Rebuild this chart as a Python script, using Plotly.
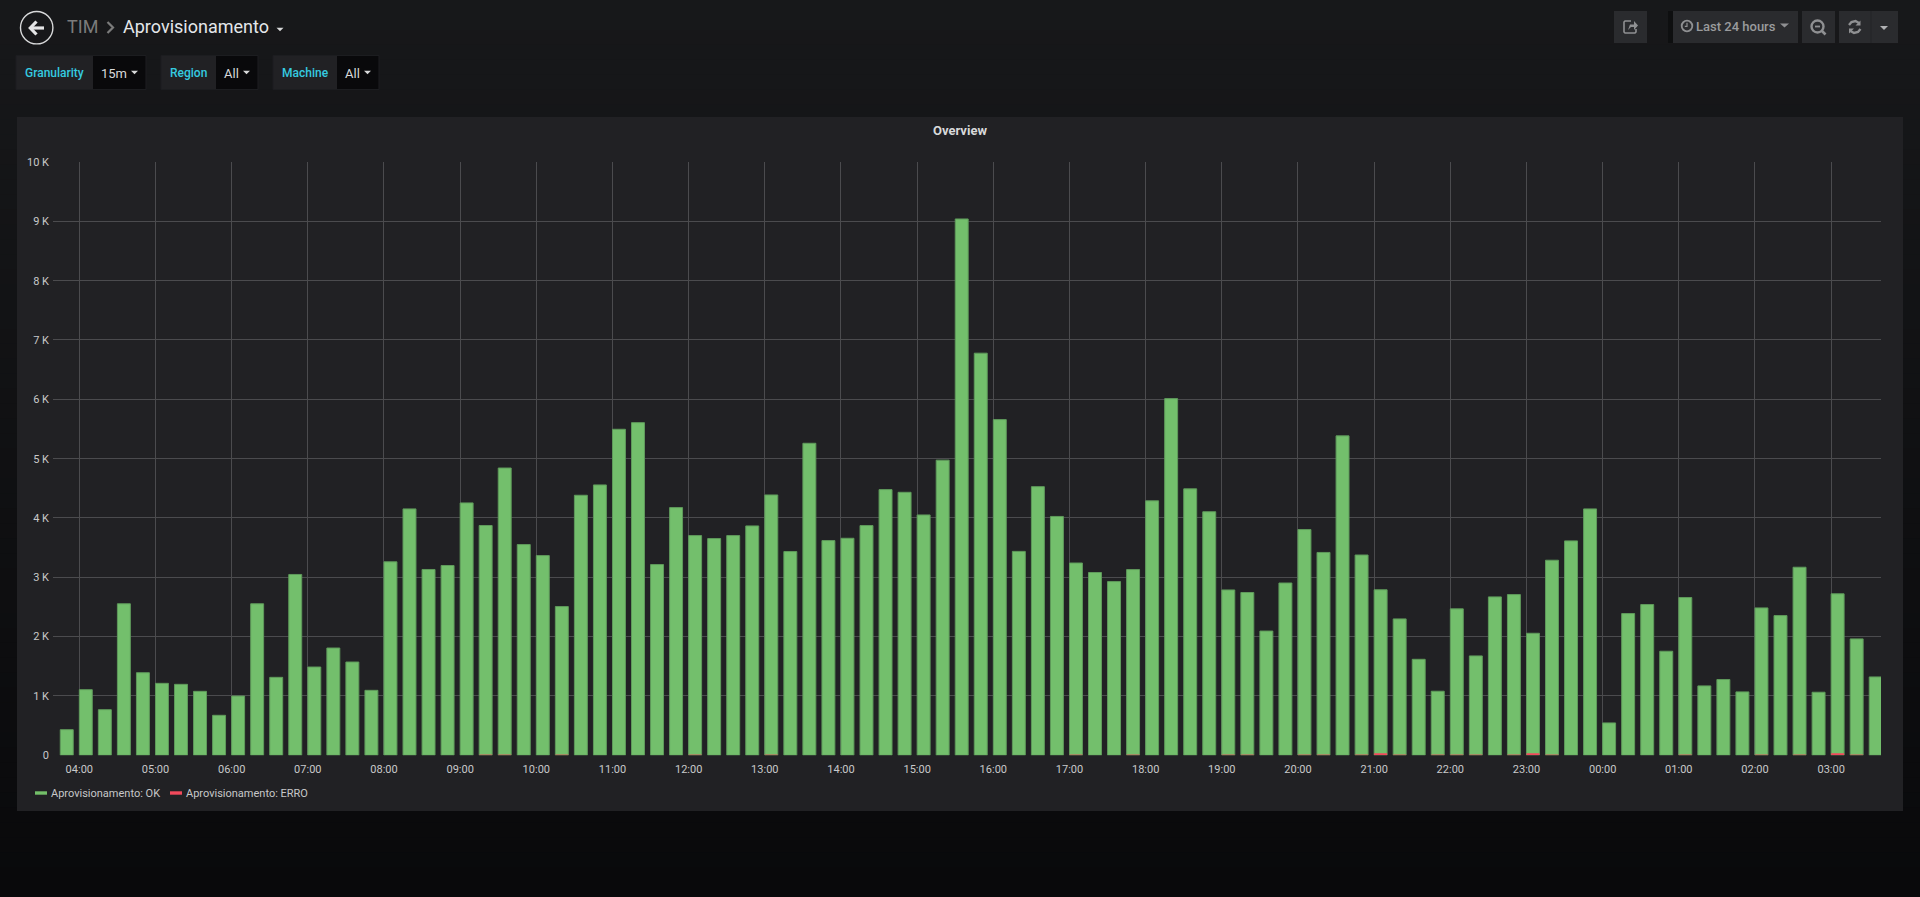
import pandas as pd
import plotly.graph_objects as go

W, H = 1920, 897

# ---- data ----
START = "2018-01-01 03:45"
ok_values = [
    432, 1106, 769, 2554, 1392, 1213, 1196, 1078, 674, 999, 2554, 1314, 3048, 1488, 1808, 1572,
    1095, 3261, 4153, 3132, 3199, 4254, 3873, 4842, 3552, 3366, 2507, 4383, 4557, 5495, 5607, 3215,
    4175, 3703, 3653, 3703, 3866, 4388, 3434, 5259, 3619, 3658, 3872, 4478, 4433, 4051, 4975, 9040,
    6778, 5658, 3437, 4528, 4026, 3241, 3081, 2928, 3130, 4289, 6012, 4491, 4105, 2787, 2744, 2094,
    2904, 3805, 3419, 5384, 3376, 2790, 2299, 1618, 1080, 2468, 1675, 2670, 2709, 2057, 3288, 3614,
    4153, 546, 2389, 2541, 1754, 2659, 1170, 1277, 1069, 2484, 2355, 3170, 1063, 2722, 1962, 1321,
]
err_times = ["2018-01-01 09:15", "2018-01-01 09:30", "2018-01-01 10:15", "2018-01-01 12:00",
             "2018-01-01 13:00", "2018-01-01 17:00", "2018-01-01 17:45", "2018-01-01 19:00",
             "2018-01-01 19:15", "2018-01-01 20:00", "2018-01-01 20:15", "2018-01-01 20:45",
             "2018-01-01 21:00", "2018-01-01 21:15", "2018-01-01 21:45", "2018-01-01 22:00",
             "2018-01-01 22:15", "2018-01-01 22:45", "2018-01-01 23:00", "2018-01-01 23:15",
             "2018-01-02 01:00", "2018-01-02 02:00", "2018-01-02 02:30", "2018-01-02 03:00",
             "2018-01-02 03:15"]
err_values = [17, 17, 17, 17, 17, 17, 17, 17, 17, 17, 17, 17, 34, 17, 17, 17, 17, 17, 34, 17,
              17, 17, 17, 34, 17]
ok_name = "Aprovisionamento: OK"
err_name = "Aprovisionamento: ERRO"
y_tick_values = [0, 1000, 2000, 3000, 4000, 5000, 6000, 7000, 8000, 9000, 10000]
y_tick_labels = ["0", "1 K", "2 K", "3 K", "4 K", "5 K", "6 K", "7 K", "8 K", "9 K", "10 K"]

times = pd.date_range(START, periods=len(ok_values), freq="15min")
BAR_MS = 15 * 60 * 1000 * 0.68

GREEN, RED = "#73bf69", "#f2495c"
FONT = "Roboto"


def px(x):
    return x / W


def py(y):
    return 1 - y / H


shapes, notes = [], []


def rect(x0, y0, x1, y1, fill, line=None):
    shapes.append(dict(type="rect", xref="paper", yref="paper", x0=px(x0), x1=px(x1), y0=py(y0), y1=py(y1),
                       fillcolor=fill, line=dict(width=1 if line else 0, color=line or fill), layer="below"))


def path(points, closed=False, fill=None, color=None, width=1.5):
    d = "M" + " L".join(f"{px(a):.6f},{py(b):.6f}" for a, b in points) + (" Z" if closed else "")
    shapes.append(dict(type="path", xref="paper", yref="paper", path=d, fillcolor=fill,
                       line=dict(width=width if color else 0, color=color or "rgba(0,0,0,0)"), layer="above"))


def circle(cx, cy, r, color, width=1.5):
    shapes.append(dict(type="circle", xref="paper", yref="paper", x0=px(cx - r), x1=px(cx + r),
                       y0=py(cy + r), y1=py(cy - r), line=dict(width=width, color=color), layer="above"))


def text(x, y, s, size, color, anchor="left", weight=None):
    notes.append(dict(xref="paper", yref="paper", x=px(x), y=py(y), text=s, showarrow=False, xanchor=anchor,
                      yanchor="middle", align=anchor, borderpad=0, borderwidth=0,
                      font=dict(family=FONT, size=size, color=color, weight=weight)))


def caret(cx, cy, color, half=3.5, h=3.5):
    path([(cx - half, cy - h / 2), (cx + half, cy - h / 2), (cx, cy + h / 2)], closed=True, fill=color)


# page gradient
BANDS = 60
for i in range(BANDS):
    t = i / (BANDS - 1)
    c = f"rgb({round(23 - 14 * t)},{round(24 - 15 * t)},{round(26 - 15 * t)})"
    rect(0, H * i / BANDS, W, H * (i + 1) / BANDS + 1, c)

# panel
rect(17, 117, 1903, 811, "#212124")
text(959.5, 130.5, "Overview", 13, "#d8d9da", "center", 700)

# header: back button, breadcrumb
circle(36.7, 27.7, 16.2, "#d8d9da", 1.4)
path([(44, 28), (31, 28)], color="#e4e5e6", width=3.2)
path([(36.5, 21.5), (30.3, 28), (36.5, 34.5)], color="#e4e5e6", width=3.2)
text(67, 27, "TIM", 18, "#7b7b7b")
path([(107.5, 22), (113, 27.5), (107.5, 33)], color="#7b7b7b", width=2.2)
text(123.3, 27, "Aprovisionamento", 18, "#e4e7ea")
caret(280, 29.5, "#d8d9da")

# template variables
for x0, xm, x1, label, lx, val, vx, cx in [
    (16, 93, 146, "Granularity", 25, "15m", 101, 134.5),
    (161, 216, 258, "Region", 170, "All", 224, 246.5),
    (273, 337, 379, "Machine", 282, "All", 345, 367.5),
]:
    rect(x0, 55.5, x1, 89.5, "#212124", "#1c1d20")
    rect(xm, 56, x1 - 0.5, 89, "#09090b")
    text(lx, 73.2, label, 12, "#35cbe0", "left", 500)
    text(vx, 73.5, val, 13, "#d8d9da")
    caret(cx, 72.5, "#d8d9da")

# right toolbar
BTN = "#2a2b2e"
ICON = "#8f9092"
rect(1614, 11, 1647, 43, BTN)
rect(1668, 11, 1673, 43, "#0e0f10")
rect(1673, 11, 1798, 43, BTN)
rect(1802, 11, 1835, 43, BTN)
rect(1839, 11, 1898, 43, BTN)
rect(1870.5, 11, 1871.5, 43, "#232427")
# share icon
path([(1631, 21), (1625, 21), (1624, 22), (1624, 32), (1625, 33), (1635, 33), (1636, 32), (1636, 29)],
     color=ICON, width=1.6)
path([(1628, 30), (1630, 24.5), (1634, 24.5), (1634, 21), (1638, 25.5), (1634, 30), (1634, 27), (1631, 27)],
     closed=True, fill=ICON)
# clock + time range
circle(1687, 26, 5.3, ICON, 1.8)
path([(1687, 22.8), (1687, 26.3), (1684.8, 26.3)], color=ICON, width=1.2)
text(1696, 26.5, "Last 24 hours", 13, "#9a9b9d", "left", 500)
caret(1784.5, 25.5, ICON, 4.5, 4)
# zoom out
circle(1817.5, 26.5, 6, ICON, 2.4)
path([(1815, 26.5), (1820, 26.5)], color=ICON, width=1.8)
path([(1822, 31), (1825.5, 34.5)], color=ICON, width=2.6)
# refresh
path([(1849, 25), (1851.5, 22), (1855.5, 21), (1859, 23)], color=ICON, width=2.4)
path([(1860.5, 20.5), (1860.5, 25.5), (1855.5, 25.5)], closed=True, fill=ICON)
path([(1860.5, 29), (1858, 32), (1854, 33), (1850.5, 31)], color=ICON, width=2.4)
path([(1849, 33.5), (1849, 28.5), (1854, 28.5)], closed=True, fill=ICON)
caret(1884, 28, "#b0b1b3", 4, 4)

# legend marks, labels taken from the trace names
for x0, colour, name, tx in [(35, GREEN, ok_name, 51), (170, RED, err_name, 186)]:
    path([(x0, 793), (x0 + 12, 793)], color=colour, width=3.4)
    text(tx, 793.3, name, 11, "#c7c8c9")

fig = go.Figure()
fig.add_bar(x=times, y=ok_values, name=ok_name, width=BAR_MS, offset=0,
            marker=dict(color="#73bf6c", line=dict(width=1, color="#5f9a5b")), showlegend=False)
fig.add_bar(x=pd.to_datetime(err_times), y=err_values, name=err_name, width=BAR_MS, offset=0,
            marker=dict(color=RED, line=dict(width=0),
                        opacity=[1 if v > 20 else 0.4 for v in err_values]), showlegend=False)

fig.update_layout(
    width=W, height=H, margin=dict(l=0, r=0, t=0, b=0, pad=0, autoexpand=False), barmode="overlay",
    paper_bgcolor="#161719", plot_bgcolor="rgba(0,0,0,0)",
    font=dict(family=FONT, size=11, color="#c8c9ca"),
    shapes=shapes, annotations=notes, hovermode="closest",
    xaxis=dict(type="date", domain=[px(53), px(1881)], automargin=False,
               range=["2018-01-01 03:39:16", "2018-01-02 03:39:16"],
               tick0="2018-01-01 04:00", dtick=3600000, tickformat="%H:%M",
               showgrid=True, gridcolor="#4b4b4e", gridwidth=1, showline=False, zeroline=False,
               ticks="", ticklabelstandoff=6, tickfont=dict(family=FONT, size=11, color="#c8c9ca")),
    yaxis=dict(domain=[py(755.3), py(162)], range=[0, 10000], tickmode="array", automargin=False,
               tickvals=y_tick_values, ticktext=y_tick_labels,
               showgrid=True, gridcolor="#4b4b4e", gridwidth=1, zeroline=False, showline=False,
               ticks="", ticklabelstandoff=3, tickfont=dict(family=FONT, size=11, color="#c8c9ca")),
)

fig.write_html("out.html", config=dict(displayModeBar=False),
               post_script="document.body.style.margin='0';document.body.style.overflow='hidden';"
                           "document.body.style.background='#09090b';")
